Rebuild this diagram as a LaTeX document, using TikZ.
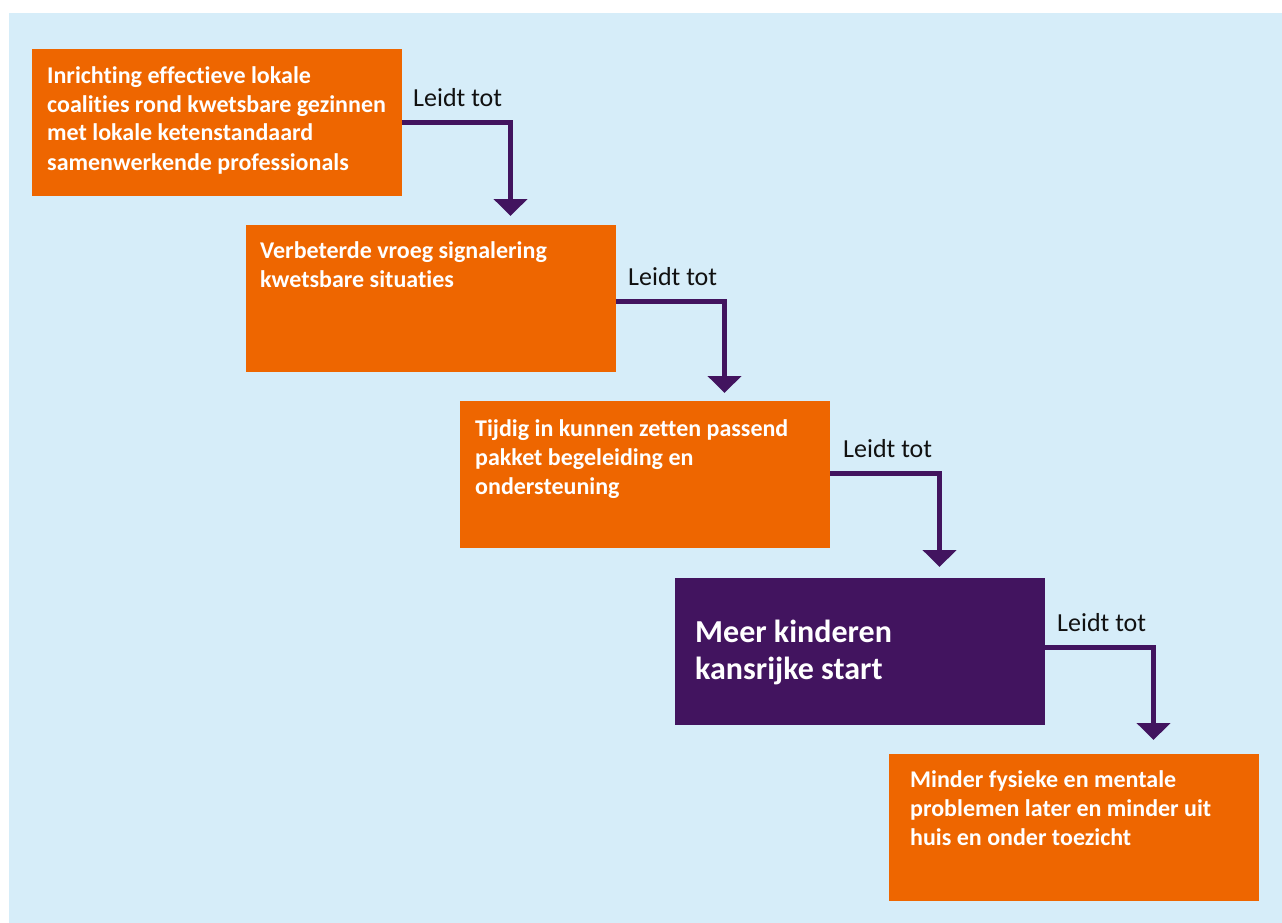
\documentclass[tikz,border=0pt]{standalone}
\usepackage{fontspec}
\setmainfont{Carlito}[Ligatures=NoCommon]
\usetikzlibrary{arrows.meta,positioning}
\definecolor{bgblue}{HTML}{D6EDF9}
\definecolor{rvorange}{HTML}{EE6600}
\definecolor{rvpurple}{HTML}{42145F}
\definecolor{labelink}{HTML}{111111}
\tikzset{
  x=1pt,y=-1pt,
  stepbox/.style={rectangle,draw=none,fill=rvorange,minimum width=370pt,minimum height=147pt,inner sep=0pt,anchor=north west},
  keybox/.style={stepbox,fill=rvpurple},
  boxtext/.style={anchor=base west,inner sep=0pt,align=left,text=white,font=\bfseries\fontsize{24}{29}\selectfont},
  keytext/.style={boxtext,font=\bfseries\fontsize{32}{37}\selectfont},
  leadlabel/.style={anchor=base west,inner sep=0pt,text=labelink,font=\fontsize{26}{30}\selectfont},
  leadarrow/.style={draw=rvpurple,line width=5pt,-{Triangle[width=33pt,length=17pt]}}
}
\begin{document}
\begin{tikzpicture}
\useasboundingbox (0,0) rectangle (1282,923);
\fill[bgblue] (9,13) rectangle (1282,923);
% boxes
\node[stepbox] (b1) at (32,49) {};
\node[stepbox] (b2) at (246,225) {};
\node[stepbox] (b3) at (460,401) {};
\node[keybox]  (b4) at (675,578) {};
\node[stepbox] (b5) at (889,754) {};
% texts (anchored at the baseline of the last line)
\node[boxtext] (t1) at (47,170) {Inrichting effectieve lokale\\coalities rond kwetsbare gezinnen\\met lokale ketenstandaard\\samenwerkende professionals};
\node[boxtext] (t2) at (260,287) {Verbeterde vroeg signalering\\kwetsbare situaties};
\node[boxtext] (t3) at (475,494) {Tijdig in kunnen zetten passend\\pakket begeleiding en\\ondersteuning};
\node[keytext] (t4) at (695,679) {Meer kinderen\\kansrijke start};
\node[boxtext] (t5) at (910,845) {Minder fysieke en mentale\\problemen later en minder uit\\huis en onder toezicht};
% arrow end points
\coordinate (e1) at (510.5,216);
\coordinate (e2) at (724.5,393);
\coordinate (e3) at (939.5,567);
\coordinate (e4) at (1153.5,740);
\draw[leadarrow] (b1.east) -| (e1);
\draw[leadarrow] ([yshift=-2.5pt]b2.east) -| (e2);
\draw[leadarrow] ([yshift=1pt]b3.east) -| (e3);
\draw[leadarrow] ([yshift=4pt]b4.east) -| (e4);
% labels
\node[leadlabel] (l1) at (413,107) {Leidt tot};
\node[leadlabel] (l2) at (628,285) {Leidt tot};
\node[leadlabel] (l3) at (843,457) {Leidt tot};
\node[leadlabel] (l4) at (1057,631) {Leidt tot};
\end{tikzpicture}
\end{document}
